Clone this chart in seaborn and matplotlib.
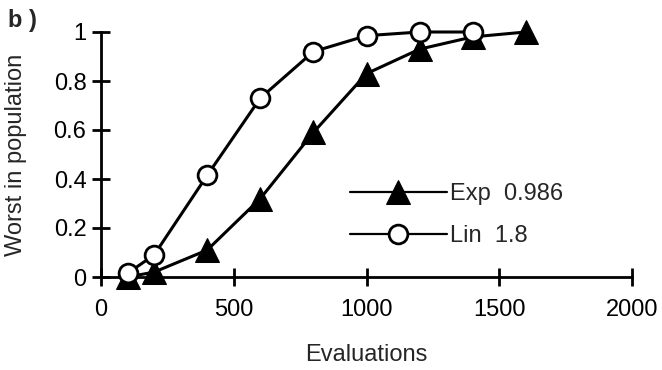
import matplotlib
matplotlib.use("Agg")
import matplotlib.pyplot as plt
import seaborn as sns
import pandas as pd

evals_exp = [100, 200, 400, 600, 800, 1000, 1200, 1400, 1600]
worst_exp = [0.0, 0.02, 0.11, 0.32, 0.59, 0.83, 0.93, 0.98, 1.0]
evals_lin = [100, 200, 400, 600, 800, 1000, 1200, 1400]
worst_lin = [0.015, 0.09, 0.415, 0.73, 0.92, 0.985, 1.0, 1.0]
label_exp = "Exp  0.986"
label_lin = "Lin  1.8"
xticks = [0, 500, 1000, 1500, 2000]
yticks = [0, 0.2, 0.4, 0.6, 0.8, 1]
ytick_labels = ["0", "0.2", "0.4", "0.6", "0.8", "1"]

sns.set_style("ticks")
plt.rcParams['font.family'] = ['Liberation Sans', 'DejaVu Sans']

fig = plt.figure(figsize=(6.62, 3.70), dpi=100)
ax = fig.add_axes([101/662, 1-277/370, (632-101)/662, (277-32)/370])

df_exp = pd.DataFrame({"x": evals_exp, "y": worst_exp})
df_lin = pd.DataFrame({"x": evals_lin, "y": worst_lin})

sns.lineplot(data=df_exp, x="x", y="y", ax=ax, color="black", linewidth=2.2,
             marker="^", markersize=17, markerfacecolor="black",
             markeredgecolor="black", label=label_exp, clip_on=False, zorder=3)
sns.lineplot(data=df_lin, x="x", y="y", ax=ax, color="black", linewidth=2.2,
             marker="o", markersize=13.5, markerfacecolor="white",
             markeredgecolor="black", markeredgewidth=2, label=label_lin,
             clip_on=False, zorder=4)

ax.set_xlim(0, 2000)
ax.set_ylim(0, 1)
ax.set_xticks(xticks)
ax.set_yticks(yticks)
ax.set_yticklabels(ytick_labels)
for s in ["top", "right"]:
    ax.spines[s].set_visible(False)
for s in ["left", "bottom"]:
    ax.spines[s].set_linewidth(2)
    ax.spines[s].set_color("black")
ax.tick_params(axis="both", direction="inout", length=13, width=2, color="black",
               labelsize=17, labelcolor="black", bottom=True, left=True)
ax.tick_params(axis="x", pad=9)
ax.tick_params(axis="y", pad=4)

ax.set_xlabel("Evaluations", fontsize=17, labelpad=17)
ax.set_ylabel("Worst in population", fontsize=17, labelpad=19)

leg = ax.legend(loc="center left", bbox_to_anchor=(0.469, 0.253), frameon=False,
                fontsize=17, handlelength=4.1, handletextpad=0.13,
                labelspacing=0.85, borderaxespad=0, borderpad=0)
for h in leg.legend_handles:
    h.set_linewidth(1.6)

fig.text(8/662, 1-27/370, "b )", fontsize=17, fontweight="bold", va="baseline")

fig.savefig("out.png", dpi=100)
